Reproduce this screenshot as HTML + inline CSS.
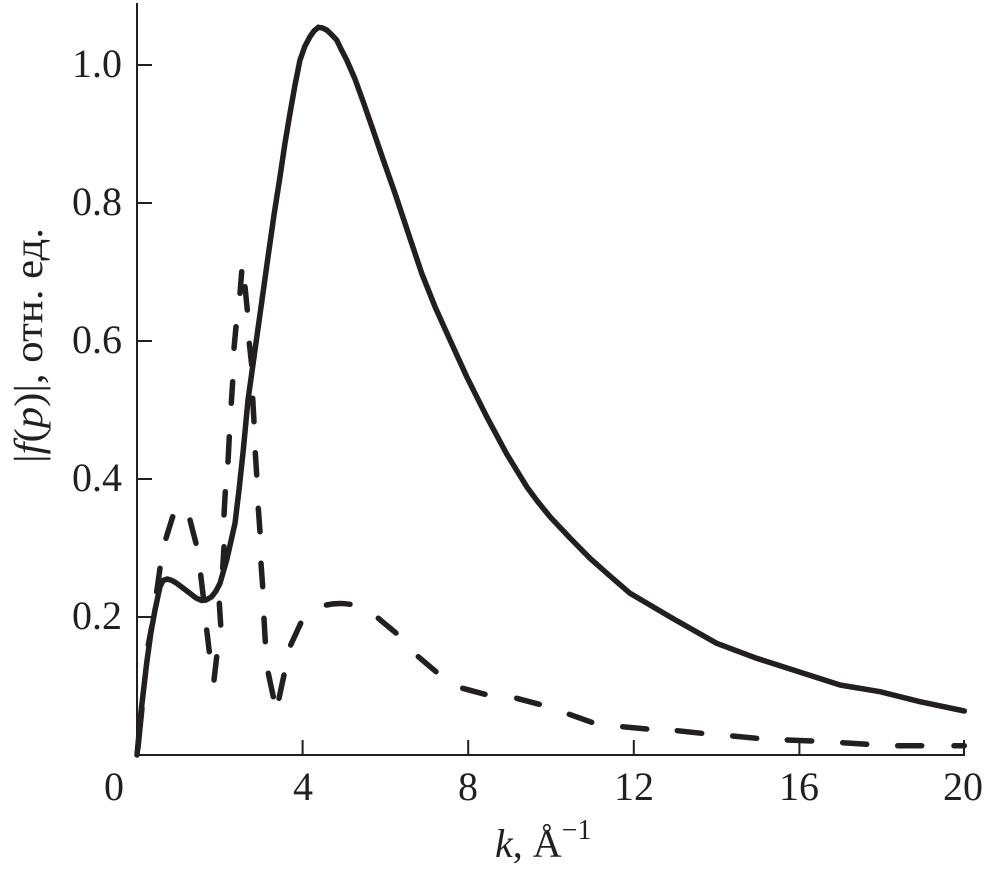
<!DOCTYPE html>
<html><head><meta charset="utf-8"><style>
html,body{margin:0;padding:0;background:#fff;}
svg{display:block;}
text{font-family:"Liberation Serif","Times New Roman","DejaVu Serif",serif;fill:#231f20;}
</style></head><body>
<svg width="990" height="874" viewBox="0 0 990 874" xmlns="http://www.w3.org/2000/svg">
<g stroke="#231f20" stroke-width="2" fill="none">
<line x1="137" y1="3" x2="137" y2="756"/>
<line x1="136" y1="755" x2="965" y2="755"/>
<line x1="137" y1="617" x2="152" y2="617"/>
<line x1="137" y1="479" x2="152" y2="479"/>
<line x1="137" y1="341" x2="152" y2="341"/>
<line x1="137" y1="203" x2="152" y2="203"/>
<line x1="137" y1="65" x2="152" y2="65"/>
<line x1="302.6" y1="755" x2="302.6" y2="740"/>
<line x1="468.2" y1="755" x2="468.2" y2="740"/>
<line x1="633.8" y1="755" x2="633.8" y2="740"/>
<line x1="799.4" y1="755" x2="799.4" y2="740"/>
<line x1="964" y1="755" x2="964" y2="740"/>
</g>
<g font-size="40" text-anchor="end">
<text x="122" y="77">1.0</text>
<text x="122" y="215">0.8</text>
<text x="122" y="353">0.6</text>
<text x="122" y="491">0.4</text>
<text x="122" y="629">0.2</text>
</g>
<g font-size="40" text-anchor="middle">
<text x="114" y="800">0</text>
<text x="303" y="800">4</text>
<text x="468" y="800">8</text>
<text x="634" y="800">12</text>
<text x="799" y="800">16</text>
<text x="963" y="800">20</text>
</g>
<text x="495" y="857" font-size="40"><tspan font-style="italic">k</tspan>, Å<tspan font-size="28" dy="-18">−1</tspan></text>
<text transform="translate(42,463) rotate(-90)" font-size="40" textLength="235" lengthAdjust="spacingAndGlyphs">|<tspan font-style="italic">f</tspan>(<tspan font-style="italic">p</tspan>)|, отн. ед.</text>

<path fill="none" stroke="#231f20" stroke-width="5.5" stroke-linejoin="round" stroke-linecap="round" d="M137,755 L141,712 L146.7,663 L151,632 L155,610 L160,586.7 L163,580.5 L167.3,579 L172,580.5 L176.7,583.3 L183,588 L190,593.3 L196,598 L201.7,600.5 L206,600 L211.7,596.7 L216,591 L220,583.3 L226.7,560 L231,541 L235,523.3 L239,490 L243.3,450 L248,400 L255,350 L262,300 L268,257 L274,215 L280,176.7 L285,143 L290,113.3 L295,85 L300,60 L305,46 L310,36.7 L314,31 L318.3,27.3 L322.5,28 L326.7,30 L331,34 L336.7,40 L341,49 L346.7,60 L355,79 L363.3,102 L372,127 L383.3,160 L395,193.3 L408.3,233.3 L421.7,273.3 L435,306.7 L450,340 L466.7,376.7 L486.7,416.7 L506.7,454 L526.7,486.7 L538,502 L550,516.7 L570,538 L590,558.3 L610,576 L630,593.3 L672,618 L716.7,643.3 L756.7,658.3 L793.3,670 L840,685 L880,691.7 L920,701.7 L964.3,711"/>

<g stroke="#231f20" stroke-width="5.5" stroke-linecap="round" fill="none">
<line x1="138" y1="748" x2="142" y2="708"/>
<line x1="148.3" y1="645" x2="151.7" y2="626.7"/>
<line x1="156.7" y1="591.7" x2="160" y2="568.3"/>
<line x1="166" y1="538.3" x2="172.7" y2="516.7"/>
<line x1="190" y1="520" x2="196" y2="543.3"/>
<line x1="200.7" y1="575" x2="203.3" y2="596.7"/>
<line x1="206.7" y1="630" x2="209.3" y2="651.7"/>
<line x1="216.7" y1="656.7" x2="214" y2="680"/>
<line x1="219.3" y1="603.3" x2="220.7" y2="625"/>
<line x1="222.7" y1="568.3" x2="224" y2="546.7"/>
<line x1="224" y1="515" x2="225.3" y2="491.7"/>
<line x1="228" y1="462" x2="229.3" y2="436.7"/>
<line x1="231.3" y1="403.3" x2="232.7" y2="381.7"/>
<line x1="234" y1="348.3" x2="236" y2="326.7"/>
<line x1="240" y1="293.3" x2="241.7" y2="271.7"/>
<line x1="245" y1="286.7" x2="247.3" y2="310"/>
<line x1="249.3" y1="343.3" x2="251.7" y2="365"/>
<line x1="252.7" y1="398.3" x2="254" y2="421.7"/>
<line x1="255.3" y1="452.7" x2="256.7" y2="475"/>
<line x1="258.3" y1="508.3" x2="260" y2="531.7"/>
<line x1="261" y1="563.3" x2="262.7" y2="586.7"/>
<line x1="264" y1="618.3" x2="265.3" y2="641.7"/>
<line x1="268.3" y1="673.3" x2="273.3" y2="696.7"/>
<line x1="279" y1="698.3" x2="284" y2="675"/>
<line x1="290.7" y1="645" x2="300.7" y2="623.3"/>
<path d="M326.4,605 Q338,602.5 350,604.3"/>
<line x1="378.3" y1="618.3" x2="396" y2="633"/>
<line x1="418.3" y1="656.7" x2="436" y2="671.7"/>
<line x1="462.7" y1="688.3" x2="485" y2="694.3"/>
<line x1="516.7" y1="698.3" x2="539.3" y2="704.3"/>
<line x1="569.3" y1="714.3" x2="591.7" y2="722.3"/>
<line x1="622.7" y1="726.7" x2="646.7" y2="729"/>
<line x1="677.3" y1="730.7" x2="701.7" y2="733.3"/>
<line x1="732.7" y1="736" x2="756.7" y2="738.3"/>
<line x1="787.3" y1="740" x2="811.7" y2="741"/>
<line x1="842.7" y1="742.7" x2="866.7" y2="744.3"/>
<line x1="897.7" y1="745.7" x2="921.7" y2="745.7"/>
<line x1="954" y1="745.7" x2="964.3" y2="745.7"/>
</g>
</svg>
</body></html>
